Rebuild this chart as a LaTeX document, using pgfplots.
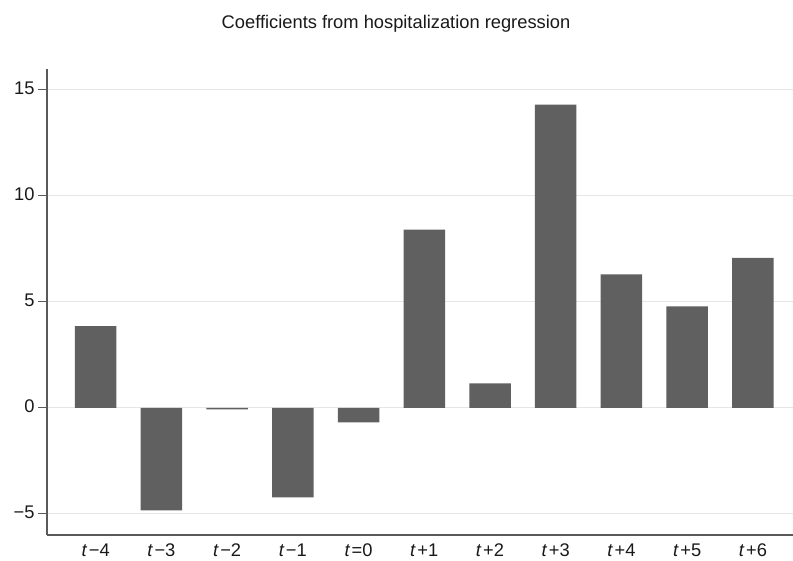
\documentclass[border=0pt]{standalone}
\usepackage{pgfplots}
\pgfplotsset{compat=1.18}
\usepackage{fontspec}
\setmainfont{Liberation Sans}
\definecolor{barc}{HTML}{606060}
\definecolor{gridc}{HTML}{E6E6E6}
\definecolor{axc}{HTML}{5A5A5A}
\newcommand{\tl}[1]{\textit{t}\kern1.5pt#1}
\begin{document}
\begin{tikzpicture}[x=1pt,y=1pt]
\useasboundingbox (0,0) rectangle (793,560);
\node[anchor=base, font=\fontsize{18.3}{21}\selectfont, text=black!90] at (396,531) {Coefficients from hospitalization regression};
\begin{axis}[
  at={(47pt,25pt)}, anchor=south west,
  scale only axis, width=746pt, height=466.4pt,
  xmin=-0.74, xmax=10.61, ymin=-6, ymax=16,
  axis x line*=bottom, axis y line*=left,
  axis line style={-, draw=axc, line width=1.2pt},
  ytick={-5,0,5,10,15},
  yticklabels={−5,0,5,10,15},
  xtick={0,1,2,3,4,5,6,7,8,9,10},
  xticklabels={\tl{−4},\tl{−3},\tl{−2},\tl{−1},\tl{=0},\tl{+1},\tl{+2},\tl{+3},\tl{+4},\tl{+5},\tl{+6}},
  ymajorgrids,
  grid style={gridc, line width=1.2pt},
  tick align=outside,
  major tick length=9pt,
  ytick style={axc, line width=1pt},
  xtick style={draw=none},
  tick label style={font=\fontsize{18.3}{21}\selectfont, text=black!90},
  /pgf/number format/assume math mode=true,
  yticklabel style={anchor=east, yshift=2pt},
  xticklabel style={anchor=base, yshift=-12.5pt},
]
\addplot[ybar, bar width=41.5pt, fill=barc, draw=none] coordinates {
  (0,3.85) (1,-4.84) (2,-0.07) (3,-4.23) (4,-0.69) (5,8.41)
  (6,1.15) (7,14.3) (8,6.29) (9,4.78) (10,7.07)
};
\end{axis}
\end{tikzpicture}
\end{document}
